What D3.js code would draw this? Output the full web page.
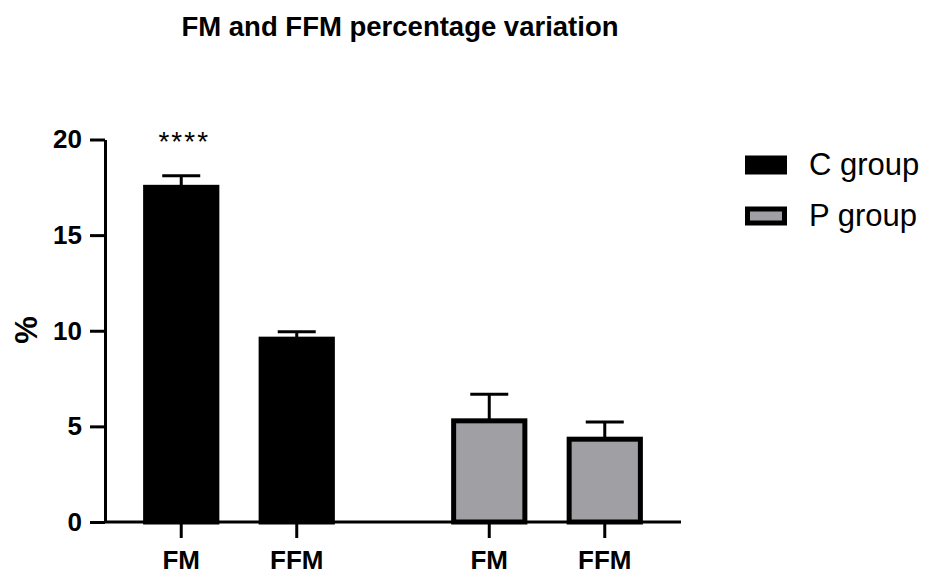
<!DOCTYPE html>
<html lang="en">
<head>
<meta charset="utf-8"/>
<title>FM and FFM percentage variation</title>
<script src="https://cdn.jsdelivr.net/npm/d3@7"></script>
<style>
  body { margin: 0; background: #fff; }
  svg { font-family: "Liberation Sans", Arial, sans-serif; }
</style>
</head>
<body>
<svg id="chart"></svg>
<script>
const width = 928
const height = 576

// data
const groups = ['C group', 'P group']
const measures = ['FM', 'FFM']
const means = [[17.5, 9.56], [5.29, 4.33]]
const errors = [[0.61, 0.39], [1.39, 0.90]]
const yTicks = [0, 5, 10, 15, 20]
const colors = ['#000000', '#a0a0a4']
const stars = '****'

const svg = d3.select('#chart')
  .attr('width', width)
  .attr('height', height)

const y = d3.scaleLinear().domain([0, 20]).range([522, 139.5])

const x0 = d3.scaleBand()
  .domain(groups)
  .range([105, 681])
  .paddingInner(0.25)
  .paddingOuter(0.06)

const x1 = d3.scaleBand()
  .domain(measures)
  .range([0, x0.bandwidth()])
  .paddingInner(0.34)
  .paddingOuter(0.17)

// title
svg.append('text')
  .attr('x', 400)
  .attr('y', 36)
  .attr('text-anchor', 'middle')
  .attr('font-size', 27.5)
  .attr('font-weight', 'bold')
  .text('FM and FFM percentage variation')

// bars
const g = svg.append('g')
  .selectAll('g')
  .data(groups)
  .enter()
  .append('g')
  .attr('transform', d => `translate(${x0(d)},0)`)

g.each(function(grp, gi){
  const sel = d3.select(this)
  const rows = measures.map((m, mi) => ({m, v: means[gi][mi], e: errors[gi][mi]}))

  // error bars (drawn first, bar covers lower part)
  sel.selectAll('line.err')
    .data(rows)
    .enter()
    .append('line')
    .attr('x1', d => x1(d.m) + x1.bandwidth() / 2)
    .attr('x2', d => x1(d.m) + x1.bandwidth() / 2)
    .attr('y1', d => y(d.v))
    .attr('y2', d => y(d.v + d.e))
    .attr('stroke', '#000')
    .attr('stroke-width', 3)

  sel.selectAll('line.cap')
    .data(rows)
    .enter()
    .append('line')
    .attr('x1', d => x1(d.m) + x1.bandwidth() / 2 - 19)
    .attr('x2', d => x1(d.m) + x1.bandwidth() / 2 + 19)
    .attr('y1', d => y(d.v + d.e))
    .attr('y2', d => y(d.v + d.e))
    .attr('stroke', '#000')
    .attr('stroke-width', 3)

  sel.selectAll('rect')
    .data(rows)
    .enter()
    .append('rect')
    .attr('x', d => x1(d.m) + 2.5)
    .attr('width', x1.bandwidth() - 5)
    .attr('y', d => y(d.v))
    .attr('height', d => y(0) - y(d.v))
    .attr('fill', colors[gi])
    .attr('stroke', '#000')
    .attr('stroke-width', 5)

  // x ticks and labels per group
  const ax = sel.append('g')
    .attr('transform', `translate(0,${y(0)})`)
    .call(d3.axisBottom(x1).tickSize(16).tickSizeOuter(0).tickPadding(13))
  ax.select('.domain').remove()
  ax.selectAll('line').attr('stroke-width', 3)
  ax.selectAll('text')
    .attr('font-size', 26)
    .attr('font-weight', 'bold')
    .attr('font-family', '"Liberation Sans", Arial, sans-serif')
    .attr('fill', '#000')
})

// significance stars over C group FM
svg.append('text')
  .attr('x', x0(groups[0]) + x1(measures[0]) + x1.bandwidth() / 2 + 3)
  .attr('y', 151)
  .attr('text-anchor', 'middle')
  .attr('font-size', 28)
  .attr('letter-spacing', 2)
  .text(stars)

// x axis baseline
svg.append('line')
  .attr('x1', 105)
  .attr('x2', 681)
  .attr('y1', y(0))
  .attr('y2', y(0))
  .attr('stroke', '#000')
  .attr('stroke-width', 3)

// y axis
const yAxis = svg.append('g')
  .attr('transform', 'translate(105,0)')
  .call(d3.axisLeft(y).tickValues(yTicks).tickSize(15).tickSizeOuter(0).tickPadding(8))
yAxis.select('.domain').attr('stroke-width', 3)
yAxis.selectAll('line').attr('stroke-width', 3)
yAxis.selectAll('text')
  .attr('font-size', 26)
  .attr('font-weight', 'bold')
  .attr('font-family', '"Liberation Sans", Arial, sans-serif')
  .attr('fill', '#000')

// y label
svg.append('text')
  .attr('transform', 'translate(37,330) rotate(-90)')
  .attr('text-anchor', 'middle')
  .attr('font-size', 31)
  .attr('font-weight', 'bold')
  .text('%')

// legend
const legend = svg.append('g')
  .selectAll('g')
  .data(groups)
  .enter()
  .append('g')
  .attr('transform', (d, i) => `translate(747.5,${158 + i * 51})`)

legend.append('rect')
  .attr('width', 37)
  .attr('height', 14)
  .attr('fill', (d, i) => colors[i])
  .attr('stroke', '#000')
  .attr('stroke-width', 5)

legend.append('text')
  .attr('x', 61.5)
  .attr('y', 17)
  .attr('font-size', 31)
  .text(d => d)
</script>
</body>
</html>
